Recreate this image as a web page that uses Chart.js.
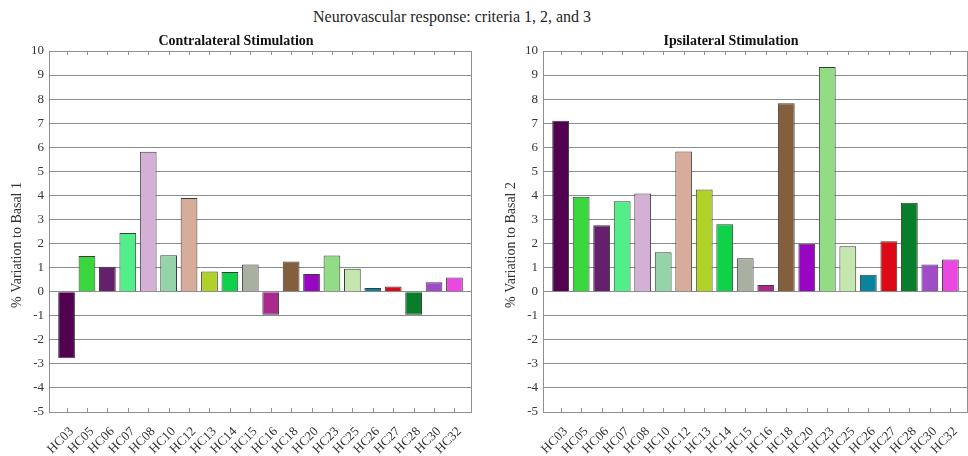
<!DOCTYPE html>
<html>
<head>
<meta charset="utf-8">
<script src="https://cdn.jsdelivr.net/npm/chart.js@4.4.1/dist/chart.umd.min.js"></script>
<style>
  body { margin: 0; background: #fff; }
  #page { position: relative; width: 968px; height: 456px; overflow: hidden; }
  #maintitle {
    position: absolute; left: 313px; top: 8px;
    font-family: "Liberation Serif", serif; font-size: 16px; color: #262626;
    white-space: nowrap;
  }
  .box { position: absolute; top: 0; height: 456px; }
</style>
</head>
<body>
<div id="page">
  <div id="maintitle">Neurovascular response: criteria 1, 2, and 3</div>
  <div class="box" style="left:0px;width:472px"><canvas id="chartContra"></canvas></div>
  <div class="box" style="left:494px;width:474px"><canvas id="chartIpsi"></canvas></div>
</div>
<script>
// subjects on the x axis
var subjects = ["HC03", "HC05", "HC06", "HC07", "HC08", "HC10", "HC12", "HC13", "HC14", "HC15",
  "HC16", "HC18", "HC20", "HC23", "HC25", "HC26", "HC27", "HC28", "HC30", "HC32"];

// % variation values
var contraValues = [-2.77, 1.48, 1.04, 2.44, 5.81, 1.51, 3.89, 0.84, 0.82, 1.13,
  -0.96, 1.25, 0.73, 1.5, 0.95, 0.15, 0.21, -0.96, 0.39, 0.59];
var ipsiValues = [7.1, 3.94, 2.76, 3.76, 4.08, 1.64, 5.82, 4.24, 2.8, 1.39,
  0.28, 7.83, 1.99, 9.33, 1.89, 0.7, 2.09, 3.69, 1.13, 1.34];

// one colour per subject
var subjectColors = ["#520050", "#3ad63e", "#64206c", "#52ee8a", "#d4b0d6", "#94d4a8", "#d8ac9a",
  "#b0d228", "#10d24a", "#a8b0a2", "#a82a8c", "#845f3e", "#9806c4", "#92dc86", "#c6e6b0",
  "#08849e", "#dc0a16", "#087e2a", "#a04cc8", "#ea48e0"];

var yTicks = { min: -5, max: 10, step: 1 };
// x limits like the original axes (a bit of room either side)
var xLimits = { min: -0.86, max: 19.86 };

// box around the axes + small category ticks top and bottom + y label
var boxTicks = {
  id: "boxTicks",
  afterDatasetsDraw: (chart, args, opts) => {
    var ctx = chart.ctx;
    var area = chart.chartArea;
    var xs = chart.scales.x;
    ctx.save();
    ctx.strokeStyle = "#8f8f8f";
    ctx.lineWidth = 1;
    ctx.beginPath();
    xs.ticks.forEach(t => {
      var px = Math.round(xs.getPixelForValue(t.value)) + 0.5;
      ctx.moveTo(px, area.top);
      ctx.lineTo(px, area.top + 4);
      ctx.moveTo(px, area.bottom);
      ctx.lineTo(px, area.bottom - 4);
    });
    ctx.stroke();
    ctx.strokeRect(Math.round(area.left) + 0.5, Math.round(area.top) + 0.5,
      Math.round(area.width) - 1, Math.round(area.height));

    // y axis label, sits a little below the middle like the original
    ctx.translate(area.left - 31.5, (area.top + area.bottom) / 2 + 13.5);
    ctx.rotate(-Math.PI / 2);
    ctx.fillStyle = "#333";
    ctx.font = "14px 'Liberation Serif'";
    ctx.textAlign = "center";
    ctx.textBaseline = "middle";
    ctx.fillText(opts.text, 0, 0);
    ctx.restore();
  }
};

var makeChart = (id, title, yLabel, values) => {
  var ctx = document.getElementById(id);
  var points = values.map((v, i) => ({ x: i, y: v }));
  return new Chart(ctx, {
    type: "bar",
    data: {
      datasets: [
        {
          label: title,
          data: points,
          backgroundColor: subjectColors,
          borderColor: "#3c3c3c",
          borderWidth: 1,
          barPercentage: 0.82,
          categoryPercentage: 1
        }
      ]
    },
    options: {
      responsive: true,
      maintainAspectRatio: false,
      animation: false,
      layout: { padding: { top: 0, left: 0, right: 0, bottom: 0 } },
      plugins: {
        legend: { display: false },
        tooltip: { enabled: false },
        title: {
          display: true,
          text: title,
          color: "#111",
          font: { family: "Liberation Serif", size: 14, weight: "bold" },
          padding: { top: 32.5, bottom: 1.7 }
        },
        boxTicks: { text: yLabel }
      },
      scales: {
        x: {
          type: "linear",
          offset: false,
          min: xLimits.min,
          max: xLimits.max,
          // hidden tick marks only used to push the labels down
          grid: { display: false, drawTicks: true, tickLength: 12 },
          border: { display: false },
          afterBuildTicks: scale => {
            scale.ticks = subjects.map((s, i) => ({ value: i }));
          },
          ticks: {
            color: "#333",
            font: { family: "Liberation Serif", size: 13 },
            minRotation: 45,
            maxRotation: 45,
            padding: 0,
            labelOffset: 5,
            autoSkip: false,
            callback: value => subjects[value]
          },
          afterFit: scale => { scale.height = 44; }
        },
        y: {
          min: yTicks.min,
          max: yTicks.max,
          grid: { color: "#8c8c8c", drawTicks: false },
          border: { display: false },
          ticks: {
            stepSize: yTicks.step,
            color: "#333",
            font: { family: "Liberation Serif", size: 13 },
            padding: 5
          },
          afterFit: scale => { scale.width = 49; }
        }
      }
    },
    plugins: [boxTicks]
  });
};

makeChart("chartContra", "Contralateral Stimulation", "% Variation to Basal 1", contraValues);
makeChart("chartIpsi", "Ipsilateral Stimulation", "% Variation to Basal 2", ipsiValues);
</script>
</body>
</html>
